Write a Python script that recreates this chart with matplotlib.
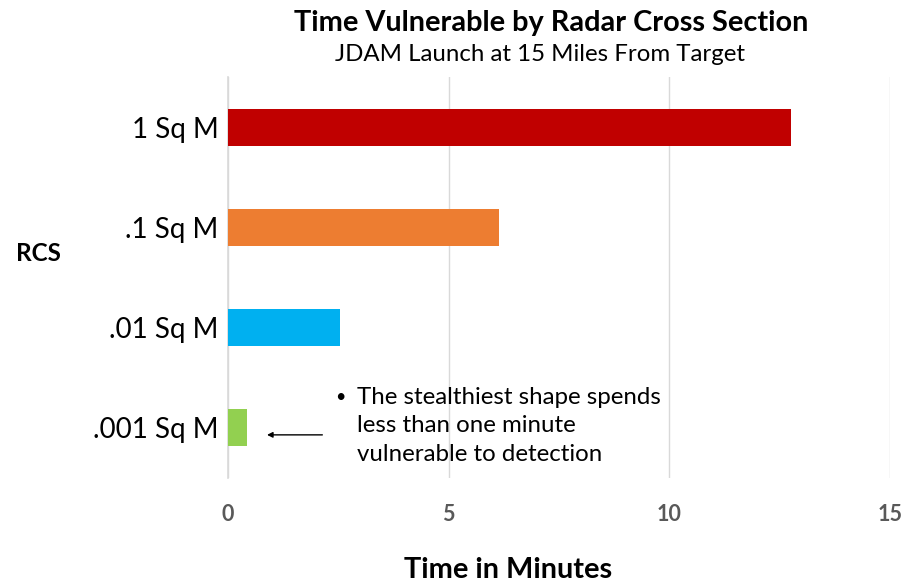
import matplotlib
matplotlib.use("Agg")
import matplotlib.pyplot as plt

categories = ["1 Sq M", ".1 Sq M", ".01 Sq M", ".001 Sq M"]
minutes = [12.76, 6.15, 2.53, 0.42]
colors = ["#C00000", "#ED7D31", "#00B0F0", "#92D050"]
xticks = [0, 5, 10, 15]

plt.rcParams['font.family'] = ['Lato', 'DejaVu Sans']

fig = plt.figure(figsize=(9.06, 5.85), dpi=100)
ax = fig.add_axes([0.2517, 0.183, 0.9823 - 0.2517, 0.868 - 0.183])

ypos = list(range(len(categories)))
ax.barh(ypos, minutes, height=0.37, color=colors, zorder=3)
ax.set_ylim(len(categories) - 0.5, -0.5)
ax.set_xlim(0, 15)
ax.set_xticks(xticks)
ax.set_xticklabels([str(t) for t in xticks], fontsize=15.5, fontweight='bold', color='#595959')
ax.set_yticks(ypos)
ax.set_yticklabels(categories, fontsize=20, color='black')
ax.tick_params(axis='both', length=0)
ax.tick_params(axis='x', pad=19)
ax.tick_params(axis='y', pad=7)
ax.grid(axis='x', color='#D9D9D9', linewidth=1, zorder=0)
for s in ['top', 'right', 'bottom']:
    ax.spines[s].set_visible(False)
ax.spines['left'].set_color('#D9D9D9')
ax.spines['left'].set_linewidth(1.2)

fig.text(0.608, 0.960, "Time Vulnerable by Radar Cross Section", ha='center', va='center',
         fontsize=20.8, fontweight='bold')
fig.text(0.5955, 0.907, "JDAM Launch at 15 Miles From Target", ha='center', va='center',
         fontsize=17.3)
fig.text(0.042, 0.567, "RCS", ha='center', va='center', fontsize=17.5, fontweight='bold')
fig.text(0.5607, 0.025, "Time in Minutes", ha='center', va='center', fontsize=20.8, fontweight='bold')

ax.annotate("", xy=(0.82, 3.07), xytext=(2.2, 3.07),
            arrowprops=dict(arrowstyle='-|>', color='black', lw=1, mutation_scale=8))
ax.text(2.42, 2.69, "\u2022", fontsize=13, va='center', ha='left')
ax.text(2.93, 2.98, "The stealthiest shape spends\nless than one minute\nvulnerable to detection",
        fontsize=17.3, va='center', ha='left', linespacing=1.46)

fig.savefig("out.png", dpi=100)
